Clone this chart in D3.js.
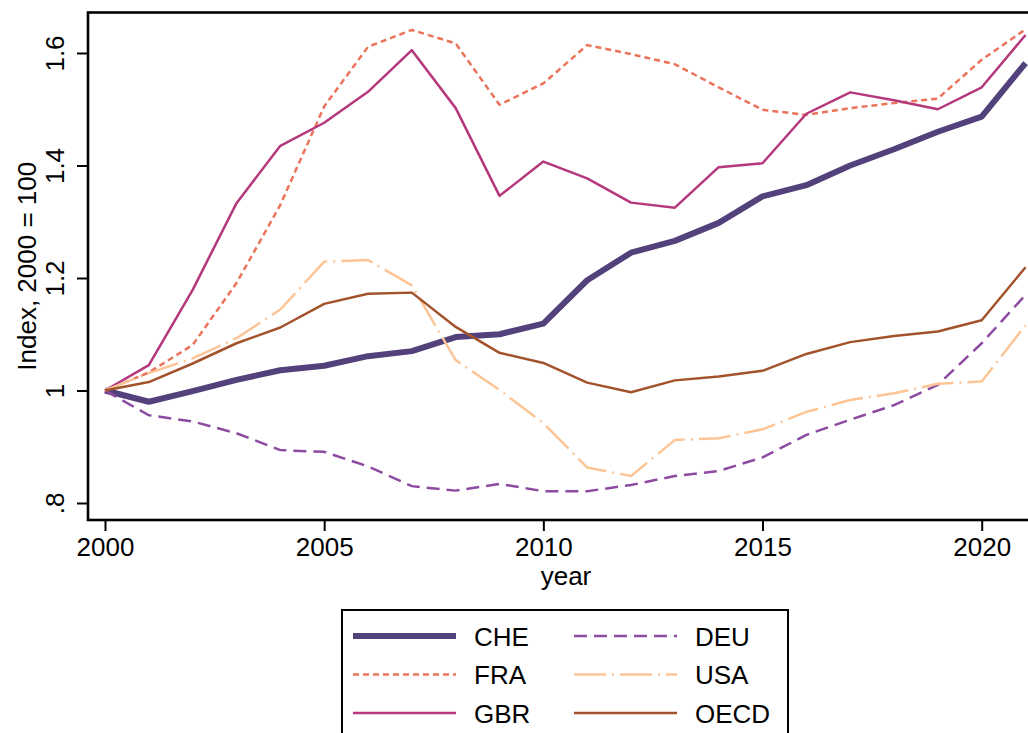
<!DOCTYPE html>
<html>
<head>
<meta charset="utf-8">
<script src="https://cdn.jsdelivr.net/npm/d3@7"></script>
<style>
  html, body { margin: 0; padding: 0; background: #fff; overflow: hidden; }
  svg { display: block; font-family: "Liberation Sans", Arial, sans-serif; }
</style>
</head>
<body>
<script>
const years = d3.range(2000, 2022);

const che  = [1.000, 0.980, 0.999, 1.019, 1.036, 1.044, 1.061, 1.070, 1.095, 1.100, 1.119, 1.196, 1.245, 1.266, 1.298, 1.345, 1.365, 1.400, 1.429, 1.460, 1.487, 1.582];
const deu  = [1.000, 0.956, 0.945, 0.924, 0.894, 0.891, 0.865, 0.830, 0.822, 0.834, 0.821, 0.821, 0.832, 0.848, 0.857, 0.881, 0.921, 0.948, 0.974, 1.010, 1.084, 1.170];
const fra  = [1.000, 1.032, 1.081, 1.191, 1.330, 1.505, 1.611, 1.641, 1.617, 1.508, 1.546, 1.614, 1.598, 1.580, 1.539, 1.499, 1.490, 1.502, 1.511, 1.519, 1.588, 1.642];
const gbr  = [1.000, 1.045, 1.179, 1.333, 1.435, 1.476, 1.531, 1.605, 1.502, 1.346, 1.407, 1.377, 1.334, 1.325, 1.397, 1.404, 1.492, 1.530, 1.516, 1.500, 1.539, 1.632];
const usa  = [1.000, 1.031, 1.057, 1.093, 1.144, 1.229, 1.232, 1.187, 1.054, 1.001, 0.942, 0.863, 0.848, 0.912, 0.915, 0.931, 0.962, 0.983, 0.995, 1.012, 1.016, 1.116];
const oecd = [1.000, 1.015, 1.048, 1.084, 1.112, 1.154, 1.172, 1.174, 1.113, 1.067, 1.049, 1.014, 0.997, 1.018, 1.025, 1.035, 1.065, 1.086, 1.097, 1.105, 1.125, 1.219];

const xTicks = [2000, 2005, 2010, 2015, 2020];
const yTicks = [0.8, 1.0, 1.2, 1.4, 1.6];
const yTickLabels = [".8", "1", "1.2", "1.4", "1.6"];

// legend is filled row by row, two columns
const legendOrder = ['CHE', 'DEU', 'FRA', 'USA', 'GBR', 'OECD'];

const series = [
  { name: 'CHE',  values: che,  color: '#52417b', width: 6,   dash: null },
  { name: 'DEU',  values: deu,  color: '#8c4aa0', width: 2.5, dash: '13,7' },
  { name: 'FRA',  values: fra,  color: '#ea735a', width: 2.5, dash: '6,4' },
  { name: 'GBR',  values: gbr,  color: '#b5377c', width: 2.5, dash: null },
  { name: 'USA',  values: usa,  color: '#fdc596', width: 2.5, dash: '32,6,2,6' },
  { name: 'OECD', values: oecd, color: '#a3532b', width: 2.5, dash: null },
];

const width = 1028;
const height = 733;
const plotLeft = 88, plotTop = 12.5, plotRight = 1044, plotBottom = 520;

const x = d3.scaleLinear().domain([2000, 2020]).range([105, 981.7]);
const y = d3.scaleLinear().domain([0.8, 1.6]).range([503, 53]);

const svg = d3.select('body')
  .append('svg')
  .attr('width', width)
  .attr('height', height);

// plot frame
svg.append('rect')
  .attr('x', plotLeft)
  .attr('y', plotTop)
  .attr('width', plotRight - plotLeft)
  .attr('height', plotBottom - plotTop)
  .attr('fill', 'none')
  .attr('stroke', '#000')
  .attr('stroke-width', 2.6);

const line = d3.line()
  .x((d, i) => x(years[i]))
  .y(d => y(d));

svg.append('g')
  .selectAll('path')
  .data(series)
  .join('path')
    .attr('d', d => line(d.values))
    .attr('fill', 'none')
    .attr('stroke', d => d.color)
    .attr('stroke-width', d => d.width)
    .attr('stroke-dasharray', d => d.dash)
    .attr('stroke-linejoin', 'round');

// x axis
const xAxis = svg.append('g')
  .attr('transform', `translate(0,${plotBottom})`)
  .call(d3.axisBottom(x).tickValues(xTicks).tickFormat(d3.format('d')).tickSize(11).tickPadding(7));
xAxis.select('.domain').remove();
xAxis.selectAll('line').attr('stroke-width', 2);
xAxis.selectAll('text').attr('font-size', 26).attr('font-family', 'Liberation Sans, Arial, sans-serif').attr('fill', '#000');

// y axis
const yAxis = svg.append('g')
  .attr('transform', `translate(${plotLeft},0)`)
  .call(d3.axisLeft(y).tickValues(yTicks).tickFormat((d, i) => yTickLabels[i]).tickSize(11));
yAxis.select('.domain').remove();
yAxis.selectAll('line').attr('stroke-width', 2);
yAxis.selectAll('text')
  .attr('font-size', 26)
  .attr('font-family', 'Liberation Sans, Arial, sans-serif')
  .attr('fill', '#000')
  .attr('x', null).attr('dy', null)
  .attr('text-anchor', 'middle')
  .attr('transform', 'translate(-24,0) rotate(-90)');

// axis titles
svg.append('text')
  .attr('x', (plotLeft + plotRight) / 2)
  .attr('y', 585)
  .attr('text-anchor', 'middle')
  .attr('font-size', 26)
  .text('year');

svg.append('text')
  .attr('transform', `translate(36,${(plotTop + plotBottom) / 2}) rotate(-90)`)
  .attr('text-anchor', 'middle')
  .attr('font-size', 26)
  .text('Index, 2000 = 100');

// legend
const legend = svg.append('g');
legend.append('rect')
  .attr('x', 342)
  .attr('y', 610)
  .attr('width', 446)
  .attr('height', 140)
  .attr('fill', 'none')
  .attr('stroke', '#000')
  .attr('stroke-width', 2);

const item = legend.selectAll('g.item')
  .data(legendOrder.map(n => series.find(s => s.name === n)))
  .join('g')
    .attr('class', 'item')
    .attr('transform', (d, i) => `translate(${i % 2 ? 574 : 353},${636 + Math.floor(i / 2) * 38.5})`);

item.append('line')
  .attr('x1', 0).attr('x2', 103)
  .attr('stroke', d => d.color)
  .attr('stroke-width', d => d.width)
  .attr('stroke-dasharray', d => d.dash);

item.append('text')
  .attr('x', 121)
  .attr('y', 9.5)
  .attr('font-size', 26)
  .text(d => d.name);
</script>
</body>
</html>
